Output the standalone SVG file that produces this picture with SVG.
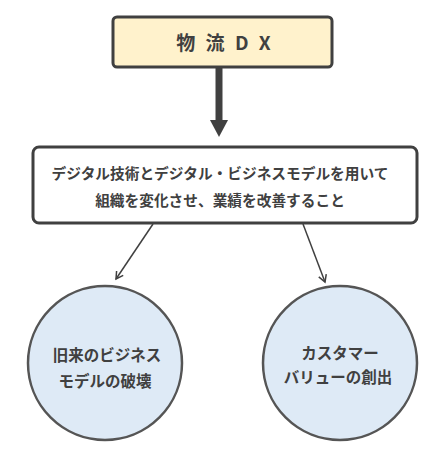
<svg xmlns="http://www.w3.org/2000/svg" width="448" height="451" viewBox="0 0 448 451">
<style>
text{font-family:"Noto Sans CJK JP","Noto Sans",sans-serif;font-weight:bold;fill:#404040;text-anchor:middle}
.t1{font-size:19px;letter-spacing:3px}
.t2{font-size:14.7px}
.t3{font-size:15.5px}
.circ{fill:#DEEAF6;stroke:#555;stroke-width:2.5}
.thin{stroke:#404040;stroke-width:1.5;fill:none}
</style>
<defs>
<marker id="open" markerWidth="10" markerHeight="10" refX="8" refY="5" orient="auto" markerUnits="userSpaceOnUse">
<path d="M1,1 L8,5 L1,9" fill="none" stroke="#404040" stroke-width="1.5"/>
</marker>
</defs>
<g id="connectors">
<line x1="219" y1="68" x2="219" y2="122" stroke="#404040" stroke-width="7"/>
<polygon points="210,120 228,120 219,137" fill="#404040"/>
<line class="thin" x1="153" y1="224" x2="116" y2="279" marker-end="url(#open)"/>
<line class="thin" x1="303" y1="224" x2="325" y2="282" marker-end="url(#open)"/>
</g>
<g id="node-dx">
<rect x="113" y="17" width="219" height="50" rx="4" fill="#FFF2CC" stroke="#404040" stroke-width="3"/>
<text class="t1" x="225" y="50">物 流 D X</text>
</g>
<g id="node-def">
<rect x="33" y="147" width="384" height="76" rx="6" fill="#fff" stroke="#404040" stroke-width="3"/>
<text class="t2" x="220" y="179">デジタル技術とデジタル・ビジネスモデルを用いて</text>
<text class="t2" x="220" y="206">組織を変化させ、業績を改善すること</text>
</g>
<g id="node-left">
<circle class="circ" cx="105" cy="363" r="77"/>
<text class="t3" x="107" y="361">旧来のビジネス</text>
<text class="t3" x="105" y="387">モデルの破壊</text>
</g>
<g id="node-right">
<circle class="circ" cx="340" cy="363" r="77"/>
<text class="t3" x="340" y="359">カスタマー</text>
<text class="t3" x="338" y="383">バリューの創出</text>
</g>
</svg>
